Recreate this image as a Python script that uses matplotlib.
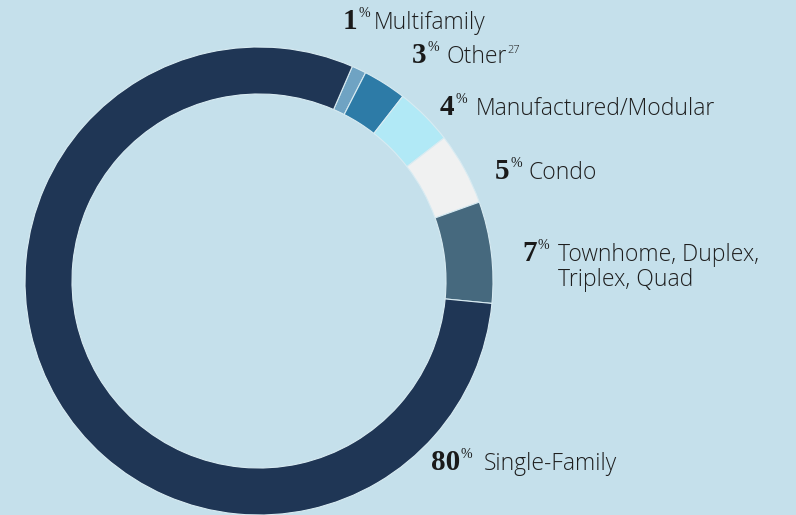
import numpy as np
import matplotlib.pyplot as plt

# slice data, clockwise from the top
categories = ['Multifamily', 'Other', 'Manufactured/Modular', 'Condo',
              'Townhome, Duplex,\nTriplex, Quad', 'Single-Family']
shares = [1, 3, 4, 5, 7, 80]
colours = ['#6fa3c3', '#2d7ba7', '#b1e9f6', '#f0f1f1', '#46697e', '#1f3655']

bg = '#c5e0eb'
W, H = 796, 515

fig = plt.figure(figsize=(W / 100, H / 100), dpi=100, facecolor=bg)
ax = fig.add_axes([0, 0, 1, 1])
ax.set_facecolor(bg)

ax.pie(shares, colors=colours, startangle=66.5, counterclock=False,
       center=(259, H - 281), radius=234, frame=True,
       wedgeprops=dict(width=47, edgecolor='#d8ebf2', linewidth=0.8))
ax.set_xlim(0, W)
ax.set_ylim(0, H)
ax.set_aspect('equal')
ax.axis('off')

# label placement (pixel coords from top-left): number x, label x, baseline y
label_pos = [(343, 374, 29), (412, 446, 63), (440, 476, 115),
             (495, 529, 179), (522, 558, 261), (431, 484, 470)]

num_font = dict(family='Liberation Serif', weight='bold', size=21,
                color='#1a1a1a')
lab_font = dict(family='Open Sans', weight='light', size=16.5,
                color='#1e1e1e')

for share, cat, (nx, lx, by) in zip(shares, categories, label_pos):
    num = ax.text(nx, H - by, str(share), ha='left', va='baseline',
                  **num_font)
    ax.annotate('%', xy=(1, 1), xycoords=num, xytext=(0.5, 1),
                textcoords='offset points', ha='left', va='top',
                family='Liberation Serif', size=10, color='#1a1a1a')
    for i, line in enumerate(cat.split('\n')):
        lab = ax.text(lx, H - by - 25 * i, line, ha='left', va='baseline',
                      **lab_font)
    if cat == 'Other':
        ax.annotate('27', xy=(1, 1), xycoords=lab, xytext=(0.5, 0),
                    textcoords='offset points', ha='left', va='top',
                    family='Open Sans', weight='light', size=8,
                    color='#1e1e1e')

fig.savefig('out.png', dpi=100, facecolor=bg)
